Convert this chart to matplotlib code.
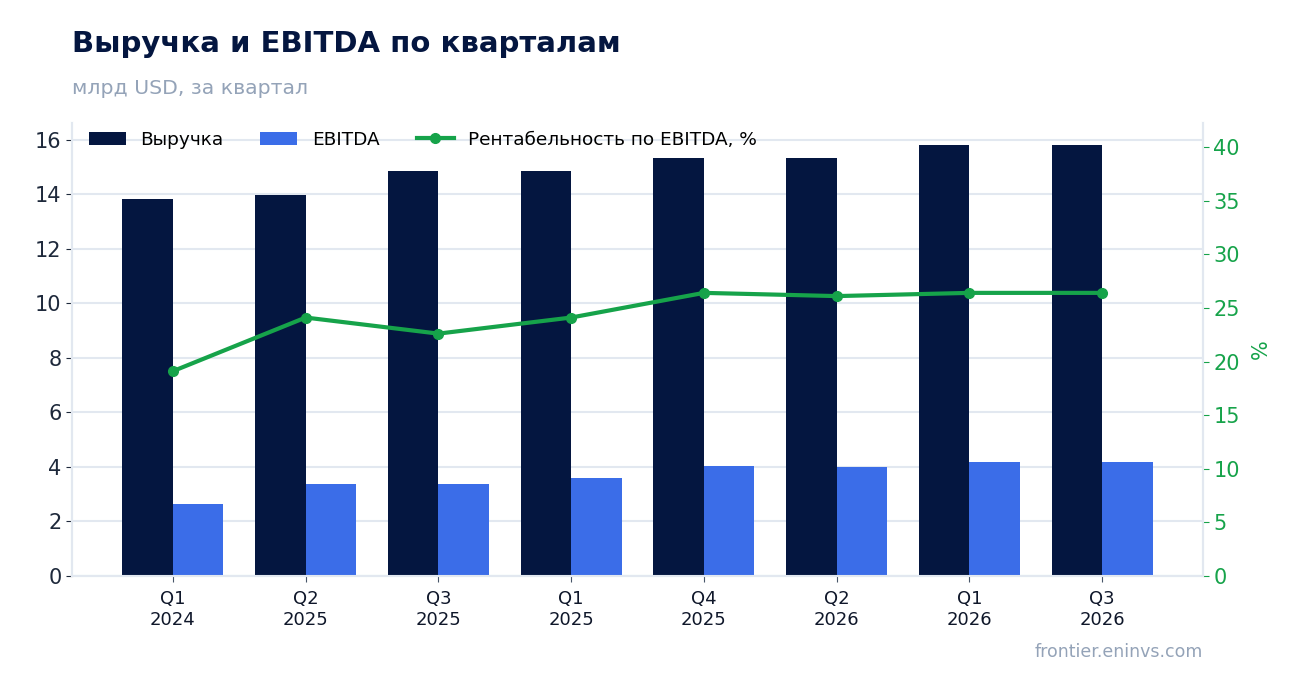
import numpy as np
import matplotlib.pyplot as plt

quarters = ["Q1\n2024", "Q2\n2025", "Q3\n2025", "Q1\n2025", "Q4\n2025", "Q2\n2026", "Q1\n2026", "Q3\n2026"]
revenue = [13.83, 13.98, 14.86, 14.86, 15.34, 15.34, 15.82, 15.82]
ebitda = [2.64, 3.38, 3.38, 3.60, 4.04, 4.00, 4.18, 4.18]
margin = [19.1, 24.1, 22.6, 24.1, 26.4, 26.1, 26.4, 26.4]

NAVY = "#041640"
BLUE = "#3b6de8"
GREEN = "#16a34a"
GRAY = "#94a3b8"
GRID = "#e2e8f0"

fig = plt.figure(figsize=(13.02, 6.93), dpi=100)
ax = fig.add_axes([72 / 1302, 1 - 576 / 693, (1203 - 72) / 1302, (576 - 123) / 693])
ax2 = ax.twinx()

x = np.arange(len(quarters))
w = 0.38
ax.bar(x - w / 2, revenue, w, color=NAVY, label="Выручка", zorder=3)
ax.bar(x + w / 2, ebitda, w, color=BLUE, label="EBITDA", zorder=3)
ax2.plot(x, margin, color=GREEN, lw=3, marker="o", ms=7,
         label="Рентабельность по EBITDA, %", zorder=4)

ax.set_xlim(-0.76, len(quarters) - 1 + 0.76)
ax.set_ylim(0, max(revenue) * 1.05)
ax2.set_ylim(0, max(margin) * 1.6)
ax.set_yticks(np.arange(0, 17, 2))
ax2.set_yticks(np.arange(0, 41, 5))
ax.set_xticks(x)
ax.set_xticklabels(quarters, fontsize=13, color="#0f172a")

ax.grid(axis="y", color=GRID, lw=1.5, zorder=0)
ax.set_axisbelow(True)
for a in (ax, ax2):
    a.spines["top"].set_visible(False)
    for s in ("left", "right", "bottom"):
        a.spines[s].set_color(GRID)
        a.spines[s].set_linewidth(1.5)
ax.tick_params(axis="y", labelsize=15, colors="#1e293b", length=4)
ax.tick_params(axis="x", length=4, color="#475569", pad=6)
ax2.tick_params(axis="y", labelsize=15, colors=GREEN, length=4)
ax2.set_ylabel("%", color=GREEN, fontsize=15, labelpad=8)

h1, l1 = ax.get_legend_handles_labels()
h2, l2 = ax2.get_legend_handles_labels()
ax2.legend(h1 + h2, l1 + l2, loc="upper left", ncol=3, frameon=False,
           fontsize=13.3, bbox_to_anchor=(0.0, 1.02), columnspacing=2.0,
           handlelength=2.0)

fig.text(72 / 1302, 1 - 44 / 693, "Выручка и EBITDA по кварталам", fontsize=21,
         fontweight="bold", color=NAVY, va="center")
fig.text(72 / 1302, 1 - 88 / 693, "млрд USD, за квартал", fontsize=14.7,
         color=GRAY, va="center")
fig.text(1203 / 1302, 1 - 652 / 693, "frontier.eninvs.com", fontsize=12.5,
         color=GRAY, ha="right", va="center")

fig.savefig("out.png", dpi=100)
